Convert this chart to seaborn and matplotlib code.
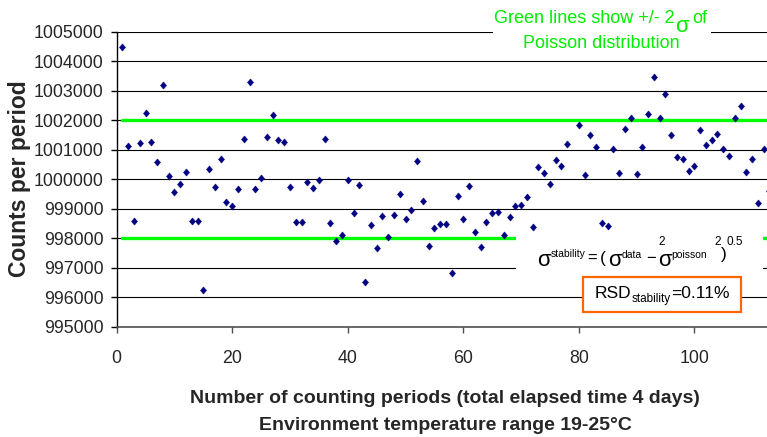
import numpy as np
import pandas as pd
import matplotlib
matplotlib.use("Agg")
import matplotlib.pyplot as plt
import seaborn as sns
from matplotlib.patches import Rectangle
from matplotlib.path import Path

# ---------------- data ----------------
periods = list(range(1, 114))
counts = [
    1004500, 1001140, 998590, 1001240, 1002260, 1001260, 1000590, 1003190, 1000100, 999570,
    999840, 1000260, 998590, 998590, 996240, 1000340, 999730, 1000680, 999240, 999100,
    999680, 1001370, 1003290, 999670, 1000060, 1001440, 1002200, 1001320, 1001270, 999740,
    998550, 998550, 999910, 999710, 999970, 1001360, 998530, 997910, 998110, 999980,
    998860, 999810, 996500, 998440, 997670, 998760, 998030, 998800, 999510, 998670,
    998970, 1000630, 999270, 997750, 998350, 998480, 998480, 996810, 999450, 998670,
    999790, 998220, 997720, 998560, 998860, 998890, 998100, 998730, 999080, 999130,
    999400, 998380, 1000420, 1000220, 999840, 1000670, 1000440, 1001200, np.nan, 1001840,
    1000160, 1001500, 1001090, 998510, 998420, 1001020, 1000200, 1001710, 1002080, 1000180,
    1001110, 1002230, 1003470, 1002070, 1002910, 1001490, 1000770, 1000680, 1000270, 1000440,
    1001690, 1001180, 1001350, 1001530, 1001040, 1000800, 1002070, 1002490, 1000250, 1000700,
    999190, 1001020, 999600,
]
poisson_limits = [1002000, 998000]     # +/- 2 sigma of Poisson distribution
limit_span = [1, 113]
y_ticks = list(range(995000, 1005001, 1000))
x_ticks = [0, 20, 40, 60, 80, 100]

# ---------------- style ----------------
sns.set_style("white")
plt.rcParams["font.family"] = ["Liberation Sans", "DejaVu Sans"]

W, H = 767, 437
fig = plt.figure(figsize=(W / 100, H / 100), dpi=100)
L, R, T, B = 116.7, 767.0, 32.0, 326.7
ax = fig.add_axes([L / W, 1 - B / H, (R - L) / W, (B - T) / H])

df = pd.DataFrame({"period": periods, "counts": counts})

for lvl in poisson_limits:
    sns.lineplot(x=limit_span, y=[lvl, lvl], color="#00FF00", lw=2.4, ax=ax, zorder=2)

diamond = Path([(0, 1), (0.85, 0), (0, -1), (-0.85, 0), (0, 1)],
               [Path.MOVETO, Path.LINETO, Path.LINETO, Path.LINETO, Path.CLOSEPOLY])
sns.scatterplot(data=df, x="period", y="counts", marker=diamond, s=27,
                color="#000080", edgecolor="#000080", linewidth=0.3,
                ax=ax, zorder=3, clip_on=False)

ax.set_xlim(0, (R - L) / 5.7765)
ax.set_ylim(995000, 1005000)
ax.set_yticks(y_ticks)
ax.set_yticklabels([str(v) for v in y_ticks])
ax.set_xticks(x_ticks)
ax.set_xticklabels([str(v) for v in x_ticks])
ax.grid(axis="y", color="black", lw=0.8)
ax.grid(axis="x", visible=False)
ax.set_axisbelow(True)
for s in ["top", "right"]:
    ax.spines[s].set_visible(False)
ax.spines["left"].set_color("black")
ax.spines["left"].set_linewidth(1.0)
ax.spines["bottom"].set_color("#505050")
ax.spines["bottom"].set_linewidth(1.2)
ax.tick_params(axis="y", direction="out", length=4.5, width=1, color="black",
               pad=5, labelsize=12.8, left=True)
ax.tick_params(axis="x", direction="out", length=4, width=1, color="#505050",
               pad=13, labelsize=12.8, bottom=True)

ax.set_ylabel("Counts per period", fontsize=16.5, fontweight="bold")
ax.yaxis.set_label_coords((20 - L) / (R - L), (B - 179) / (B - T))
ax.yaxis.label.set_verticalalignment("center")
ax.yaxis.label.set_rotation_mode("default")

ax.set_xlabel("Number of counting periods (total elapsed time 4 days)\n"
              "Environment temperature range 19-25°C",
              fontsize=14, fontweight="bold", linespacing=1.8)
# 'baseline' anchors the last line's baseline
ax.xaxis.label.set_verticalalignment("baseline")
ax.xaxis.set_label_coords((445 - L) / (R - L), (B - 430) / (B - T))

# ---------------- annotation boxes ----------------
def rect(x0, y0, x1, y1, **kw):
    r = Rectangle((x0 / W, 1 - y1 / H), (x1 - x0) / W, (y1 - y0) / H,
                  transform=fig.transFigure, **kw)
    fig.patches.append(r)
    return r

rect(493, 0, 711, 52, facecolor="white", edgecolor="none", zorder=1)
rect(516, 232, 763, 273, facecolor="white", edgecolor="none", zorder=1)
rect(583.3, 276.7, 740.7, 311.7, facecolor="white", edgecolor="#FF6600", lw=1.6, zorder=1)

def ptext(x, y, s, size, color="black", **kw):
    return fig.text(x / W, 1 - y / H, s, fontsize=size, color=color,
                    va="baseline", ha=kw.pop("ha", "left"), zorder=5, **kw)

renderer = fig.canvas.get_renderer()

def flow(pieces, x, y, color="black", center=False):
    ts, cx = [], x
    for s, size, dy, gap in pieces:
        t = ptext(cx + gap, y + dy, s, size, color)
        cx = cx + gap + t.get_window_extent(renderer).width
        ts.append(t)
    if center:
        shift = (cx - x) / 2
        for t in ts:
            px, py = t.get_position()
            t.set_x(px - shift / W)
    return cx

GREEN = "#00EE00"
flow([("Green lines show +/- 2", 13, 0, 0), ("σ", 16, 8.2, 0), ("of", 13, 0, 4)],
     601, 23.3, color=GREEN, center=True)
ptext(601, 48.3, "Poisson distribution", 13, color=GREEN, ha="center")

formula = [
    ("σ", 536.7, 266.5, 16), ("stability", 550.7, 256.7, 7.5),
    ("=", 587.0, 263.0, 12), ("(", 600.0, 263.5, 12.5),
    ("σ", 608.3, 266.5, 16), ("data", 621.7, 258.3, 7.5),
    ("2", 658.0, 245.0, 8.5), ("−", 646.7, 262.5, 12),
    ("σ", 658.3, 266.5, 16), ("poisson", 671.7, 257.5, 7.5),
    ("2", 714.0, 245.0, 8.5), (")", 720.7, 259.0, 12.5), ("0.5", 726.7, 245.0, 8.5),
]
for s, x, y, size in formula:
    ptext(x, y, s, size)

flow([("RSD", 12.5, 0, 0), ("stability", 8.5, 3.5, 0), ("=0.11%", 12.5, 0, 0)], 595, 298.3)

fig.savefig("out.png", dpi=100)
